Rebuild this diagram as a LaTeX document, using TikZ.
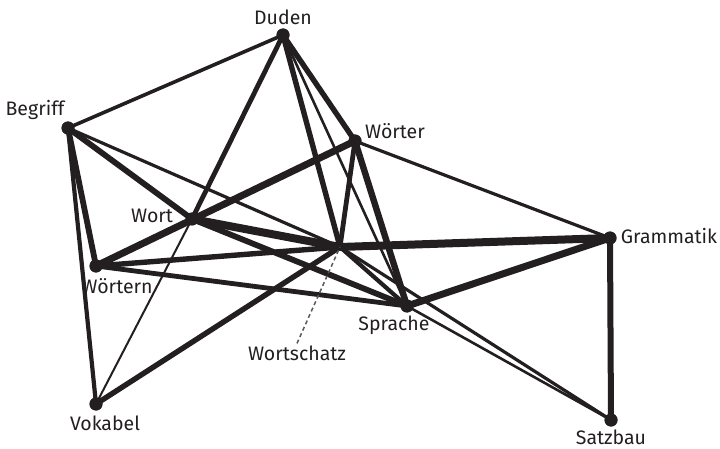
\documentclass[tikz,border=0pt]{standalone}
\usepackage{fontspec}
\setmainfont{Fira Sans}
\definecolor{ink}{HTML}{231F20}
\begin{document}
\begin{tikzpicture}[x=1pt,y=-1pt,
  vertex/.style={circle,fill=ink,inner sep=0pt,minimum size=13pt},
  hub/.style={circle,fill=ink,inner sep=0pt,minimum size=4pt},
  lbl/.style={text=ink,font=\fontsize{19.5}{22}\selectfont,inner sep=0pt},
  edge/.style={draw=ink,line cap=round,line width=#1},
  leader/.style={draw=ink!75,line width=1.5pt,dash pattern=on 4pt off 3pt}]
\useasboundingbox (0,0) rectangle (720,449);

% vertices
\node[vertex] (duden) at (283,35) {};
\node[vertex] (begriff) at (68,128) {};
\node[vertex] (woerter) at (355,141) {};
\node[vertex] (wort) at (192,219) {};
\node[hub] (schatz) at (340,247) {};
\node[vertex] (gram) at (610,238) {};
\node[vertex] (woertern) at (96,266) {};
\node[vertex] (sprache) at (407,306) {};
\node[vertex] (vokabel) at (96,404) {};
\node[vertex] (satzbau) at (611,420) {};

% connectors, weighted by thickness
\draw[edge=3.6pt] (duden.center) -- (begriff.center);
\draw[edge=4.8pt] (duden.center) -- (wort.center);
\draw[edge=5.4pt] (duden.center) -- (schatz.center);
\draw[edge=2.6pt] (duden.center) -- (sprache.center);
\draw[edge=5.4pt] (duden.center) -- (woerter.center);
\draw[edge=5.8pt] (begriff.center) -- (wort.center);
\draw[edge=5.8pt] (begriff.center) -- (woertern.center);
\draw[edge=4.2pt] (begriff.center) -- (vokabel.center);
\draw[edge=3.2pt] (begriff.center) -- (schatz.center);
\draw[edge=7pt] (woertern.center) -- (woerter.center);
\draw[edge=8pt] (wort.center) -- (schatz.center);
\draw[edge=5.8pt] (wort.center) -- (sprache.center);
\draw[edge=2pt] (wort.center) -- (vokabel.center);
\draw[edge=5.4pt] (woertern.center) -- (schatz.center);
\draw[edge=4.8pt] (woertern.center) -- (sprache.center);
\draw[edge=5.4pt] (vokabel.center) -- (schatz.center);
\draw[edge=4.8pt] (woerter.center) -- (schatz.center);
\draw[edge=6.4pt] (woerter.center) -- (sprache.center);
\draw[edge=3.2pt] (woerter.center) -- (gram.center);
\draw[edge=8pt] (schatz.center) -- (gram.center);
\draw[edge=4.2pt] (schatz.center) -- (sprache.center);
\draw[edge=3.2pt] (schatz.center) -- (satzbau.center);
\draw[edge=7pt] (sprache.center) -- (gram.center);
\draw[edge=2.6pt] (sprache.center) -- (satzbau.center);
\draw[edge=6pt] (gram.center) -- (satzbau.center);

% redraw dots above the connectors
\foreach \n in {duden,begriff,woerter,wort,gram,woertern,sprache,vokabel,satzbau}
  \fill[ink] (\n) circle (6.5pt);

% labels
\node[lbl] (lduden) at (283,17) {Duden};
\node[lbl] (lbegriff) at (35,110) {Begriff};
\node[lbl] (lwoerter) at (395,131) {Wörter};
\node[lbl] (lwort) at (152,216) {Wort};
\node[lbl] (lwoertern) at (117,286) {Wörtern};
\node[lbl] (lgram) at (669,236) {Grammatik};
\node[lbl] (lsprache) at (394,325) {Sprache};
\node[lbl] (lschatz) at (297,353) {Wortschatz};
\node[lbl] (lvokabel) at (105,423) {Vokabel};
\node[lbl] (lsatzbau) at (611,437) {Satzbau};

% leader from the label to its hub
\draw[leader] (lschatz.north) ++(0,-2) -- (schatz.center);
\end{tikzpicture}
\end{document}
